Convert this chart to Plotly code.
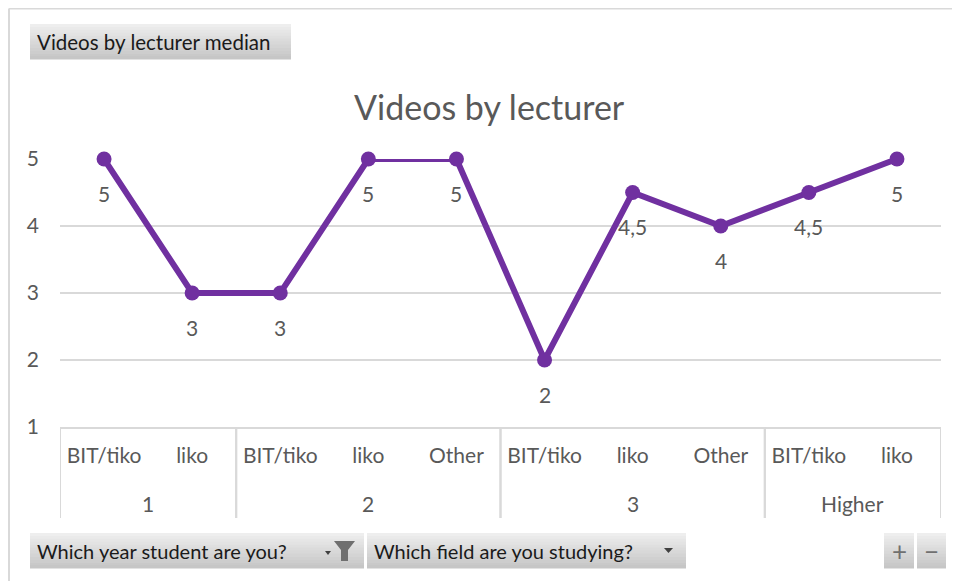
import plotly.graph_objects as go

# data
years = ["1", "1", "2", "2", "2", "3", "3", "3", "Higher", "Higher"]
fields = ["BIT/tiko", "liko", "BIT/tiko", "liko", "Other",
          "BIT/tiko", "liko", "Other", "BIT/tiko", "liko"]
median = [5, 3, 3, 5, 5, 2, 4.5, 4, 4.5, 5]
y_ticks = [1, 2, 3, 4, 5]

# page has an 8px body margin, so the figure is a bit smaller than the window
OFF = 8
W, H = 960 - OFF, 581 - OFF
L, R, T, B = 52, 19, 151, 154
FONT = "Lato"
GREY = "#595959"
PURPLE = "#7030A0"
LINE = "#D9D9D9"


def px(x):
    # screen pixel -> paper x
    return (x - OFF - L) / (W - L - R)


def py(y):
    # screen pixel -> paper y
    return 1 - (y - OFF - T) / (H - T - B)


def fmt(v):
    return str(v).replace(".", ",") if v != int(v) else str(int(v))


xs = list(range(len(median)))

fig = go.Figure()
fig.add_trace(go.Scatter(
    x=xs, y=median, mode="lines+markers",
    line=dict(color=PURPLE, width=6),
    marker=dict(color=PURPLE, size=15),
    cliponaxis=False, hoverinfo="y", showlegend=False,
))

annotations = []
shapes = []

# data labels below points
for x, v in zip(xs, median):
    annotations.append(dict(x=x, y=v, text=fmt(v), showarrow=False,
                            yshift=-34, yanchor="middle",
                            font=dict(family=FONT, size=21, color=GREY)))

# group labels and dividers
groups = []
for i, g in enumerate(years):
    if not groups or groups[-1][0] != g:
        groups.append([g, i, i])
    else:
        groups[-1][2] = i
for g, a, b in groups:
    annotations.append(dict(x=(a + b) / 2, y=py(503), yref="paper", text=g,
                            showarrow=False, yanchor="middle",
                            font=dict(family=FONT, size=21, color=GREY)))
    for edge in (a - 0.5, b + 0.5):
        shapes.append(dict(type="line", xref="x", yref="paper", x0=edge, x1=edge,
                           y0=0, y1=py(518), line=dict(color=LINE, width=2)))

# chart border (top and left visible)
shapes.append(dict(type="line", xref="paper", yref="paper", x0=px(9), x1=px(980),
                   y0=py(8.5), y1=py(8.5), line=dict(color=LINE, width=2)))
shapes.append(dict(type="line", xref="paper", yref="paper", x0=px(9), x1=px(9),
                   y0=py(8.5), y1=py(600), line=dict(color=LINE, width=2)))


def button(x0, x1, y0, y1, label=None, size=20, color="#1a1a1a", center=False):
    top, bot = (238, 238, 238), (198, 198, 198)
    n = 12
    h = (y1 - y0) / n
    for k in range(n):
        t = k / (n - 1)
        c = tuple(int(top[j] + (bot[j] - top[j]) * t) for j in range(3))
        shapes.append(dict(type="rect", xref="paper", yref="paper",
                           x0=px(x0), x1=px(x1), y0=py(y0 + k * h), y1=py(y0 + (k + 1) * h + 0.5),
                           line=dict(width=0), fillcolor="rgb(%d,%d,%d)" % c))
    if label:
        annotations.append(dict(
            x=px((x0 + x1) / 2) if center else px(x0 + 5), y=py((y0 + y1) / 2),
            xref="paper", yref="paper", text=label, showarrow=False,
            xanchor="center" if center else "left", yanchor="middle",
            font=dict(family=FONT, size=size, color=color)))


def path(pts, color):
    d = "M " + " L ".join("%f,%f" % (px(a), py(b)) for a, b in pts) + " Z"
    shapes.append(dict(type="path", xref="paper", yref="paper", path=d,
                       fillcolor=color, line=dict(width=0)))


button(30, 291, 24, 59, "Videos by lecturer median", size=20.5)
button(30, 364, 533, 568, "Which year student are you?")
button(367, 686, 533, 568, "Which field are you studying?")
button(884, 914, 533, 568, "+", size=26, color="#707070", center=True)
button(917, 946, 533, 568, "\u2212", size=26, color="#707070", center=True)

# funnel icon and dropdown arrows
path([(334, 541), (355, 541), (348, 550), (348, 561), (341, 561), (341, 550)], "#6f6f6f")
path([(325, 551), (331, 551), (328, 555)], "#404040")
path([(664, 548), (673, 548), (668.5, 553)], "#404040")

# title
annotations.append(dict(x=px(489), y=py(106), xref="paper", yref="paper",
                        text="Videos by lecturer", showarrow=False,
                        xanchor="center", yanchor="middle",
                        font=dict(family=FONT, size=34, color=GREY)))

fig.update_layout(
    width=W, height=H,
    margin=dict(l=L, r=R, t=T, b=B, pad=0),
    paper_bgcolor="white", plot_bgcolor="white",
    annotations=annotations, shapes=shapes,
    xaxis=dict(range=[-0.5, len(median) - 0.5], tickvals=xs, ticktext=fields,
               showgrid=False, zeroline=False,
               showline=True, linecolor=LINE, linewidth=2,
               ticks="outside", ticklen=9, tickcolor="rgba(0,0,0,0)",
               tickfont=dict(family=FONT, size=21, color=GREY), fixedrange=True),
    yaxis=dict(range=[1, 5], tickvals=y_ticks, showgrid=True, gridcolor=LINE,
               gridwidth=2, zeroline=False, showline=False, ticklabelstandoff=20,
               tickfont=dict(family=FONT, size=21, color=GREY), fixedrange=True),
)

fig.write_html("out.html")
